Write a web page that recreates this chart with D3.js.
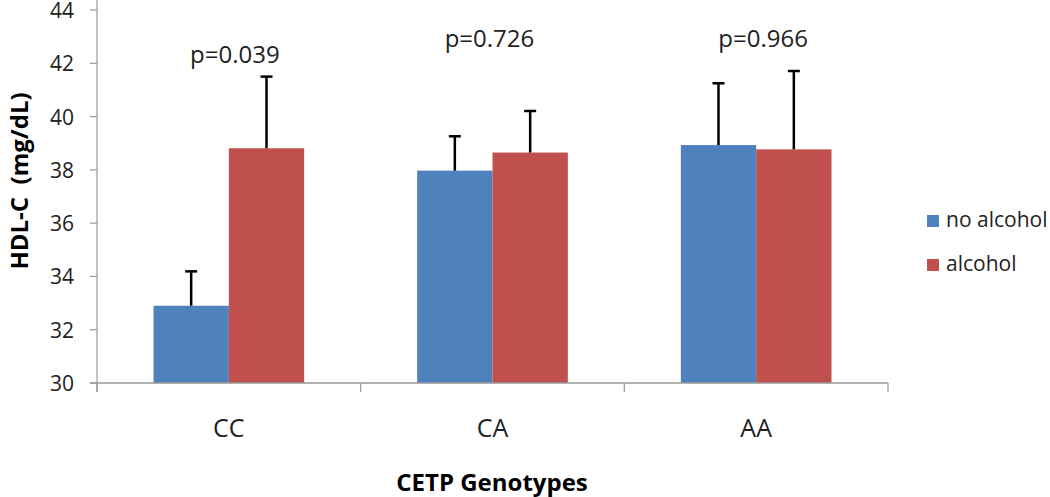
<!DOCTYPE html>
<html><head><meta charset="utf-8">
<script src="https://cdn.jsdelivr.net/npm/d3@7"></script>
<style>
html,body{margin:0;padding:0;background:#fff;}
svg{display:block;font-family:"Open Sans",sans-serif;}
</style></head>
<body><svg id="c" width="1050" height="497"></svg>
<script>
const categories = ["CC", "CA", "AA"];
const seriesNames = ["no alcohol", "alcohol"];
const noAlcohol = [32.9, 37.97, 38.93];
const noAlcoholErr = [1.29, 1.29, 2.32];
const alcohol = [38.81, 38.65, 38.77];
const alcoholErr = [2.69, 1.56, 2.94];
const pLabels = ["p=0.039", "p=0.726", "p=0.966"];
const yTicks = [30, 32, 34, 36, 38, 40, 42, 44];
const colors = ["#4F81BD", "#C0504D"];

const svg = d3.select("#c");
const x0 = d3.scaleBand().domain(categories).range([97, 888]).padding(0);
const x1 = d3.scaleBand().domain(seriesNames).range([0, x0.bandwidth()]).paddingInner(0).paddingOuter(0.75);
const y = d3.scaleLinear().domain([30, 44]).range([383, 10]);

const data = categories.map((c, i) => ({
  cat: c,
  vals: [
    {s: seriesNames[0], v: noAlcohol[i], e: noAlcoholErr[i]},
    {s: seriesNames[1], v: alcohol[i], e: alcoholErr[i]}
  ]
}));

// bars
const g = svg.append("g");
const groups = g.selectAll("g.grp").data(data).join("g")
  .attr("transform", d => `translate(${x0(d.cat)},0)`);
groups.selectAll("rect").data(d => d.vals).join("rect")
  .attr("x", d => x1(d.s))
  .attr("width", x1.bandwidth())
  .attr("y", d => y(d.v))
  .attr("height", d => y(30) - y(d.v))
  .attr("fill", (d, i) => colors[i]);

// error bars
groups.selectAll("g.err").data(d => d.vals).join("g").each(function(d) {
  const cx = x1(d.s) + x1.bandwidth() / 2;
  const sel = d3.select(this);
  sel.append("line").attr("x1", cx).attr("x2", cx).attr("y1", y(d.v)).attr("y2", y(d.v + d.e))
    .attr("stroke", "#000").attr("stroke-width", 2.5);
  sel.append("line").attr("x1", cx - 6).attr("x2", cx + 6).attr("y1", y(d.v + d.e)).attr("y2", y(d.v + d.e))
    .attr("stroke", "#000").attr("stroke-width", 2.5);
});

// axes
const axisColor = "#999";
// y axis
svg.append("line").attr("x1", 97).attr("x2", 97).attr("y1", 0).attr("y2", 392)
  .attr("stroke", axisColor).attr("stroke-width", 1.2);
const yAxis = svg.append("g");
yAxis.selectAll("line").data(yTicks).join("line")
  .attr("x1", 90).attr("x2", 97).attr("y1", d => y(d)).attr("y2", d => y(d))
  .attr("stroke", axisColor).attr("stroke-width", 1.2);
yAxis.selectAll("text").data(yTicks).join("text")
  .attr("x", 74).attr("y", d => y(d)).attr("text-anchor", "end")
  .attr("dominant-baseline", "central")
  .attr("font-size", 21).attr("fill", "#222").text(d => d);

// x axis
svg.append("line").attr("x1", 90).attr("x2", 888).attr("y1", 383).attr("y2", 383)
  .attr("stroke", axisColor).attr("stroke-width", 1.5);
const xBounds = categories.map(c => x0(c)).concat([x0(categories[categories.length - 1]) + x0.bandwidth()]);
svg.append("g").selectAll("line").data(xBounds).join("line")
  .attr("x1", d => d).attr("x2", d => d).attr("y1", 383).attr("y2", 392)
  .attr("stroke", axisColor).attr("stroke-width", 1.2);
svg.append("g").selectAll("text").data(categories).join("text")
  .attr("x", d => x0(d) + x0.bandwidth() / 2).attr("y", 437)
  .attr("text-anchor", "middle").attr("font-size", 25).attr("fill", "#222").text(d => d);

// p-value labels
const pDx = [6, -3, 7];
const pY = [63, 47, 47];
svg.append("g").selectAll("text").data(pLabels).join("text")
  .attr("x", (d, i) => x0(categories[i]) + x0.bandwidth() / 2 + pDx[i])
  .attr("y", (d, i) => pY[i])
  .attr("text-anchor", "middle").attr("font-size", 24).attr("fill", "#222").text(d => d);

// axis titles
svg.append("text").attr("transform", "translate(28,181) rotate(-90)")
  .attr("text-anchor", "middle").attr("font-size", 24).attr("font-weight", "bold")
  .attr("fill", "#000").attr("xml:space", "preserve").style("white-space", "pre").text("HDL-C  (mg/dL)");
svg.append("text").attr("x", 492).attr("y", 491).attr("text-anchor", "middle")
  .attr("font-size", 24).attr("font-weight", "bold").attr("fill", "#000").text("CETP Genotypes");

// legend
const leg = svg.append("g").selectAll("g").data(seriesNames).join("g")
  .attr("transform", (d, i) => `translate(927,${215 + i * 44})`);
leg.append("rect").attr("width", 12).attr("height", 12).attr("fill", (d, i) => colors[i]);
leg.append("text").attr("x", 19).attr("y", 11.5).attr("font-size", 21).attr("fill", "#222").text(d => d);
</script>
</body></html>
